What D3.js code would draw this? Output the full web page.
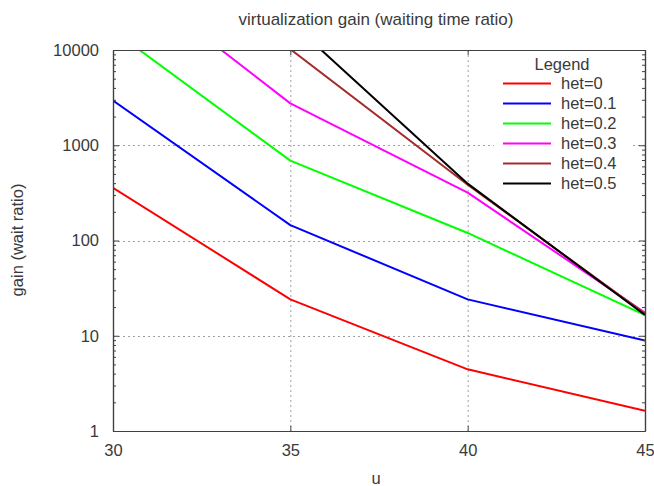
<!DOCTYPE html>
<html>
<head>
<meta charset="utf-8">
<script src="https://cdn.jsdelivr.net/npm/d3@7"></script>
<style>
  html, body { margin: 0; padding: 0; background: #fff; }
  svg { display: block; font-family: "Liberation Sans", Arial, sans-serif; }
</style>
</head>
<body>
<svg id="chart" width="654" height="486"></svg>
<script>
// utilisation points (x axis)
const uValues = [30, 35, 40, 45];

// gain (waiting time ratio) for each heterogeneity level
const het0  = [358, 24.1, 4.44, 1.63];
const het01 = [2940, 145, 24.1, 8.9];
const het02 = [16000, 690, 120, 16.5];
const het03 = [76000, 2750, 318, 17.5];
const het04 = [250000, 10200, 385, 17];
const het05 = [420000, 19800, 395, 16.5];

const seriesNames = ["het=0", "het=0.1", "het=0.2", "het=0.3", "het=0.4", "het=0.5"];
const seriesValues = [het0, het01, het02, het03, het04, het05];
const seriesColors = ["#ff0000", "#0000ff", "#00ff00", "#ff00ff", "#a52a2a", "#000000"];

const xTicks = [30, 35, 40, 45];
const yTicks = [1, 10, 100, 1000, 10000];

const titleText = "virtualization gain (waiting time ratio)";
const xLabel = "u";
const yLabel = "gain (wait ratio)";
const legendTitle = "Legend";

const svg = d3.select("#chart");
const plotL = 113, plotR = 645, plotT = 50, plotB = 431;
const axisColor = "#404040";
const textColor = "#3a3a3a";
const fontSize = 16.5;

const x = d3.scaleLinear().domain([30, 45]).range([plotL, plotR]);
const y = d3.scaleLog().domain([1, 10000]).range([plotB, plotT]);

// minor log ticks: 2..9 in each decade
const yMinor = [];
for (let d = 1; d < 10000; d *= 10) for (let k = 2; k <= 9; k++) yMinor.push(d * k);

// grid
const grid = svg.append("g").attr("stroke", "#a0a0a0").attr("stroke-width", 1)
  .attr("stroke-dasharray", "2,3").attr("fill", "none");
grid.selectAll("line.gx").data(xTicks.slice(1, -1)).join("line")
  .attr("x1", d => x(d) + 0.5).attr("x2", d => x(d) + 0.5)
  .attr("y1", plotT).attr("y2", plotB);
grid.selectAll("line.gy").data(yTicks.slice(1, -1)).join("line")
  .attr("x1", plotL).attr("x2", plotR)
  .attr("y1", d => Math.round(y(d)) + 0.5).attr("y2", d => Math.round(y(d)) + 0.5);

// legend background hides the grid behind it
svg.append("rect").attr("x", 494).attr("y", 52).attr("width", 138).attr("height", 142).attr("fill", "#fff");

// data lines
svg.append("clipPath").attr("id", "plotClip").append("rect")
  .attr("x", plotL).attr("y", plotT).attr("width", plotR - plotL).attr("height", plotB - plotT);

const line = d3.line().x((d, i) => x(uValues[i])).y(d => y(d));
svg.append("g").attr("clip-path", "url(#plotClip)")
  .selectAll("path").data(seriesValues).join("path")
  .attr("d", d => line(d))
  .attr("fill", "none")
  .attr("stroke", (d, i) => seriesColors[i])
  .attr("stroke-width", 2)
  .attr("stroke-linejoin", "round");

// axes
function styleAxis(g) {
  g.selectAll("path.domain").attr("stroke", axisColor).attr("stroke-width", 1.2).attr("fill", "none");
  g.selectAll(".tick line").attr("stroke", axisColor);
  g.selectAll(".tick text").attr("fill", textColor).attr("font-size", fontSize)
    .attr("font-family", "'Liberation Sans', Arial, sans-serif");
}

svg.append("g").attr("transform", `translate(${plotL},0)`)
  .call(d3.axisLeft(y).tickValues(yTicks).tickFormat(d3.format("d")).tickSize(-6).tickSizeOuter(0).tickPadding(14))
  .call(styleAxis);
svg.append("g").attr("transform", `translate(${plotL},0)`)
  .call(d3.axisLeft(y).tickValues(yMinor).tickFormat("").tickSize(-3).tickSizeOuter(0))
  .call(styleAxis);
svg.append("g").attr("transform", `translate(${plotR},0)`)
  .call(d3.axisRight(y).tickValues(yTicks).tickFormat("").tickSize(-6).tickSizeOuter(0))
  .call(styleAxis);
svg.append("g").attr("transform", `translate(${plotR},0)`)
  .call(d3.axisRight(y).tickValues(yMinor).tickFormat("").tickSize(-3).tickSizeOuter(0))
  .call(styleAxis);
svg.append("g").attr("transform", `translate(0,${plotB})`)
  .call(d3.axisBottom(x).tickValues(xTicks).tickFormat(d3.format("d")).tickSize(-5).tickSizeOuter(0).tickPadding(13))
  .call(styleAxis);
svg.append("g").attr("transform", `translate(0,${plotT})`)
  .call(d3.axisTop(x).tickValues(xTicks).tickFormat("").tickSize(-5).tickSizeOuter(0))
  .call(styleAxis);

// titles
svg.append("text").attr("x", 376).attr("y", 25).attr("text-anchor", "middle")
  .attr("font-size", 17).attr("fill", textColor).text(titleText);
svg.append("text").attr("x", 376).attr("y", 484).attr("text-anchor", "middle")
  .attr("font-size", fontSize).attr("fill", textColor).text(xLabel);
svg.append("text").attr("transform", "translate(23,240) rotate(-90)").attr("text-anchor", "middle")
  .attr("font-size", fontSize).attr("fill", textColor).text(yLabel);

// legend
const legend = svg.append("g");
legend.append("text").attr("x", 562).attr("y", 70).attr("text-anchor", "middle")
  .attr("font-size", fontSize).attr("fill", textColor).text(legendTitle);
const rows = legend.selectAll("g.row").data(seriesNames).join("g")
  .attr("transform", (d, i) => `translate(0,${83.5 + i * 20})`);
rows.append("line").attr("x1", 503).attr("x2", 551).attr("y1", 0).attr("y2", 0)
  .attr("stroke", (d, i) => seriesColors[i]).attr("stroke-width", 2);
rows.append("text").attr("x", 561).attr("y", 5.8)
  .attr("font-size", fontSize).attr("fill", textColor).text(d => d);
</script>
</body>
</html>
